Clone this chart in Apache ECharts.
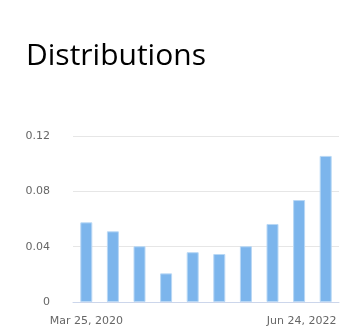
<!DOCTYPE html>
<html>
<head>
<meta charset="utf-8">
<script src="https://cdn.jsdelivr.net/npm/echarts@6/dist/echarts.min.js"></script>
<style>html,body{margin:0;padding:0;background:#fff;}#c{width:359px;height:336px;}</style>
</head>
<body>
<div id="c"></div>
<script>
const categories = ["Mar 25, 2020","Jun 24, 2020","Sep 23, 2020","Dec 23, 2020","Mar 24, 2021","Jun 23, 2021","Sep 22, 2021","Dec 22, 2021","Mar 23, 2022","Jun 24, 2022"];
const values = [0.0576, 0.0511, 0.0403, 0.0207, 0.036, 0.0347, 0.0403, 0.0564, 0.0737, 0.1056];
const yTicks = [0, 0.04, 0.08, 0.12];

const chart = echarts.init(document.getElementById('c'), null, {renderer: 'canvas'});
chart.setOption({
  animation: false,
  title: {
    text: 'Distributions', left: 21, top: 36,
    textStyle: {fontFamily: 'Open Sans', fontSize: 30, fontWeight: 'normal', color: '#000'}
  },
  grid: {left: 73, right: 20, top: 136, bottom: 34, containLabel: false},
  xAxis: {
    type: 'category', data: categories, boundaryGap: true,
    axisLine: {lineStyle: {color: '#ccd6eb'}},
    axisTick: {show: false},
    axisLabel: {
      interval: 0, margin: 14, color: '#666', fontFamily: 'DejaVu Sans', fontSize: 11,
      formatter: function (v, i) {
        if (i === 0) return v;
        if (i === categories.length - 1) return '{r|' + v + '}';
        return '';
      },
      rich: {r: {padding: [0, 48, 0, 0], color: '#666', fontFamily: 'DejaVu Sans', fontSize: 11}}
    }
  },
  yAxis: {
    type: 'value', min: yTicks[0], max: yTicks[yTicks.length - 1], interval: 0.04,
    axisLine: {show: false}, axisTick: {show: false},
    splitLine: {lineStyle: {color: '#e6e6e6'}},
    axisLabel: {margin: 23, color: '#666', fontFamily: 'DejaVu Sans', fontSize: 11,
      formatter: function (v) { return String(+v.toFixed(2)); }}
  },
  series: [{
    type: 'bar', data: values, barWidth: 12,
    itemStyle: {color: '#7cb5ec', borderColor: '#b9d8f5', borderWidth: 1}
  }]
});
</script>
</body>
</html>
